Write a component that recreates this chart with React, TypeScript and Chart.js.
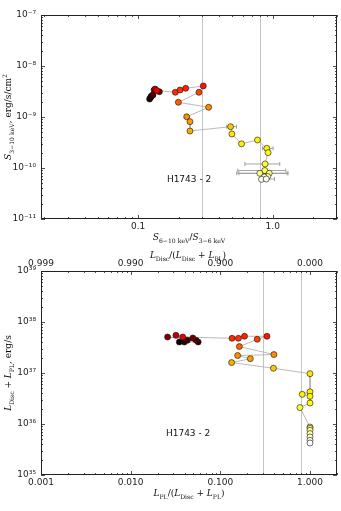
import React, { useEffect, useRef } from 'react';
import { Chart, registerables } from 'chart.js';
Chart.register(...registerables);

// ---------- data ----------
// upper panel: hardness ratio S(6-10 keV)/S(3-6 keV) vs flux S(3-10 keV)
const hardness = [0.1217, 0.1238, 0.1248, 0.127, 0.129, 0.1314, 0.1438, 0.1336, 0.1376,
  0.189, 0.2048, 0.2257, 0.3047, 0.283, 0.199, 0.334, 0.2296, 0.2428, 0.2428, 0.486,
  0.497, 0.586, 0.77, 0.903, 0.923, 0.877, 0.873, 0.942, 0.801, 0.918, 0.865, 0.825, 0.895];
const flux = [2.25e-9, 2.41e-9, 2.52e-9, 2.64e-9, 2.7e-9, 3.38e-9, 3.13e-9, 3.54e-9, 3.31e-9,
  3.05e-9, 3.38e-9, 3.65e-9, 4.06e-9, 3.05e-9, 1.94e-9, 1.55e-9, 1.01e-9, 8.09e-10, 5.31e-10, 6.46e-10,
  4.65e-10, 2.98e-10, 3.54e-10, 2.43e-10, 2.0e-10, 1.2e-10, 8.93e-11, 7.87e-11, 7.87e-11, 6.81e-11, 6.67e-11, 6.0e-11, 6.08e-11];
const hardnessLow: (number | null)[] = [null, null, null, null, null, null, null, null, null,
  null, null, null, null, null, null, null, null, null, null, 0.454,
  null, null, null, 0.839, null, 0.621, 0.55, 0.54, 0.56, null, null, null, 0.83];
const hardnessHigh: (number | null)[] = [null, null, null, null, null, null, null, null, null,
  null, null, null, null, null, null, null, null, null, null, 0.538,
  null, null, null, 1.005, null, 1.127, 1.25, 1.3, 1.28, null, null, null, 1.03];

// lower panel: power-law fraction vs total luminosity
const plFraction = [0.0349, 0.0397, 0.0566, 0.0429, 0.0537, 0.0258, 0.0493, 0.032, 0.0381,
  0.135, 0.159, 0.186, 0.331, 0.258, 0.163, 0.396, 0.156, 0.216, 0.1336, 0.391,
  1.0, 1.0, 0.819, 1.0, 1.0, 0.772, 1.0, 1.0, 1.0, 1.0, 1.0, 1.0, 1.0];
const luminosity = [4.05e37, 4.05e37, 4.05e37, 4.38e37, 4.38e37, 5.08e37, 4.86e37, 5.49e37, 5.08e37,
  4.79e37, 4.79e37, 5.25e37, 5.25e37, 4.58e37, 3.3e37, 2.3e37, 2.2e37, 1.91e37, 1.6e37, 1.24e37,
  9.7e36, 4.28e36, 3.82e36, 3.49e36, 2.58e36, 2.1e36, 8.73e35, 8.24e35, 7.53e35, 6.49e35, 5.56e35, 4.79e35, 4.24e35];

const referenceLines = [0.3, 0.8];
const topXTicks = [0.1, 1];
const topYTicks = [1e-11, 1e-10, 1e-9, 1e-8, 1e-7];
const botXTicks = [0.001, 0.01, 0.1, 1];
const botYTicks = [1e35, 1e36, 1e37, 1e38, 1e39];
const sourceLabel = 'H1743 - 2';
const labelPosTop = { x: 0.239, y: 6.0e-11 };
const labelPosBot = { x: 0.0437, y: 6.5e35 };

// ---------- style ----------
const pointColors = ['#000000', '#1a0000', '#2a0000', '#3d0000', '#520000', '#800000', '#6a0000', '#c00000', '#ee0000',
  '#ff2a00', '#ff3000', '#ff2200', '#ff1400', '#ff4000', '#ff6000', '#ff8800', '#ff8c00', '#ff9a00', '#ffaa00', '#ffc800',
  '#ffe600', '#ffee00', '#fff000', '#fff500', '#fffa10', '#ffff30', '#ffff50', '#ffff70', '#ffff90', '#ffffb0', '#ffffd0', '#ffffee', '#ffffff'];

const SUP: Record<string, string> = { '-': '⁻', '0': '⁰', '1': '¹', '2': '²', '3': '³', '4': '⁴', '5': '⁵', '6': '⁶', '7': '⁷', '8': '⁸', '9': '⁹' };
const powLabel = (v: number) => '10' + String(Math.round(Math.log10(v))).split('').map((c) => SUP[c]).join('');

type Part = { t: string; s?: 'sub' | 'sup'; i?: boolean };

function drawRich(ctx: CanvasRenderingContext2D, parts: Part[], cx: number, cy: number, rot: number, size: number) {
  ctx.save();
  ctx.translate(cx, cy);
  ctx.rotate(rot);
  const fontFor = (p: Part) => `${p.i ? 'italic ' : ''}${p.s ? size * 0.68 : size}px "DejaVu Serif"`;
  let w = 0;
  for (const p of parts) { ctx.font = fontFor(p); w += ctx.measureText(p.t).width; }
  let x = -w / 2;
  ctx.textBaseline = 'alphabetic';
  ctx.textAlign = 'left';
  ctx.fillStyle = '#111';
  for (const p of parts) {
    ctx.font = fontFor(p);
    const dy = p.s === 'sub' ? size * 0.3 : p.s === 'sup' ? -size * 0.42 : 0;
    ctx.fillText(p.t, x, size * 0.35 + dy);
    x += ctx.measureText(p.t).width;
  }
  ctx.restore();
}

function logValues(min: number, max: number) {
  const out: { v: number; major: boolean }[] = [];
  for (let e = Math.floor(Math.log10(min)); e <= Math.ceil(Math.log10(max)); e++) {
    for (let m = 1; m <= 9; m++) {
      const v = m * Math.pow(10, e);
      if (v >= min * 0.9999 && v <= max * 1.0001) out.push({ v, major: m === 1 });
    }
  }
  return out;
}

type Decor = {
  label: string;
  labelPos: { x: number; y: number };
  xTitle: Part[];
  yTitle: Part[];
  topTitle?: Part[];
  errLo?: (number | null)[];
  errHi?: (number | null)[];
  errY?: number[];
};

function makeDecor(d: Decor) {
  return {
    id: 'decor',
    beforeDatasetsDraw(chart: any) {
      const { ctx, chartArea: a, scales } = chart;
      const xs = scales.x, ys = scales.y;
      ctx.save();
      ctx.strokeStyle = '#c4c4c4';
      ctx.lineWidth = 1;
      for (const r of referenceLines) {
        const px = Math.round(xs.getPixelForValue(r)) + 0.5;
        ctx.beginPath(); ctx.moveTo(px, a.top); ctx.lineTo(px, a.bottom); ctx.stroke();
      }
      if (d.errLo && d.errHi && d.errY) {
        ctx.strokeStyle = '#9a9a9a';
        ctx.lineWidth = 0.9;
        d.errLo.forEach((lo, i) => {
          const hi = d.errHi![i];
          if (lo == null || hi == null) return;
          const py = ys.getPixelForValue(d.errY![i]);
          const x0 = xs.getPixelForValue(lo), x1 = xs.getPixelForValue(hi);
          ctx.beginPath();
          ctx.moveTo(x0, py); ctx.lineTo(x1, py);
          ctx.moveTo(x0, py - 2); ctx.lineTo(x0, py + 2);
          ctx.moveTo(x1, py - 2); ctx.lineTo(x1, py + 2);
          ctx.stroke();
        });
      }
      ctx.restore();
    },
    afterDraw(chart: any) {
      const { ctx, chartArea: a, scales } = chart;
      const xs = scales.x, ys = scales.y;
      ctx.save();
      ctx.strokeStyle = '#222';
      ctx.lineWidth = 1;
      ctx.strokeRect(a.left + 0.5, a.top + 0.5, a.right - a.left - 1, a.bottom - a.top - 1);
      ctx.lineWidth = 0.8;
      ctx.beginPath();
      for (const t of logValues(xs.min, xs.max)) {
        const px = Math.round(xs.getPixelForValue(t.v)) + 0.5;
        const L = t.major ? 4 : 2;
        ctx.moveTo(px, a.bottom); ctx.lineTo(px, a.bottom - L);
        ctx.moveTo(px, a.top); ctx.lineTo(px, a.top + L);
      }
      for (const t of logValues(ys.min, ys.max)) {
        const py = Math.round(ys.getPixelForValue(t.v)) + 0.5;
        const L = t.major ? 4 : 2;
        ctx.moveTo(a.left, py); ctx.lineTo(a.left + L, py);
        ctx.moveTo(a.right, py); ctx.lineTo(a.right - L, py);
      }
      ctx.stroke();
      // source label
      ctx.fillStyle = '#111';
      ctx.font = '9px "DejaVu Sans"';
      ctx.textAlign = 'center';
      ctx.textBaseline = 'middle';
      ctx.fillText(d.label, xs.getPixelForValue(d.labelPos.x), ys.getPixelForValue(d.labelPos.y));
      ctx.restore();
      const cxm = (a.left + a.right) / 2;
      const cym = (a.top + a.bottom) / 2;
      drawRich(ctx, d.xTitle, cxm, a.bottom + 18, 0, 9);
      drawRich(ctx, d.yTitle, 8, cym, -Math.PI / 2, 9);
      if (d.topTitle) drawRich(ctx, d.topTitle, cxm - 1, a.top - 16, 0, 9);
    },
  };
}

const tickFont = { family: '"DejaVu Sans"', size: 9 };
const tickColor = '#222';

function baseDataset(xv: number[], yv: number[]) {
  return {
    data: xv.map((x, i) => ({ x, y: yv[i] })),
    showLine: true,
    borderColor: '#a8a8a8',
    borderWidth: 0.8,
    pointBackgroundColor: pointColors,
    pointBorderColor: '#111',
    pointBorderWidth: 0.6,
    pointRadius: 3,
    pointHoverRadius: 3,
  };
}

function topConfig(): any {
  return {
    type: 'scatter',
    data: { datasets: [baseDataset(hardness, flux)] },
    options: {
      responsive: false,
      animation: false,
      events: [],
      layout: { padding: { left: 0, right: 4, top: 15, bottom: 0 } },
      plugins: { legend: { display: false }, tooltip: { enabled: false } },
      scales: {
        x: {
          type: 'logarithmic', min: 0.019, max: 3,
          grid: { display: false, drawTicks: false }, border: { display: false },
          ticks: { font: tickFont, color: tickColor, padding: 2, maxRotation: 0, autoSkip: false,
            callback: (v: number) => v.toFixed(1) },
          afterBuildTicks: (s: any) => { s.ticks = topXTicks.map((value) => ({ value })); },
          afterFit: (s: any) => { s.height = 36; },
        },
        y: {
          type: 'logarithmic', min: 1e-11, max: 1e-7,
          grid: { display: false, drawTicks: false }, border: { display: false },
          ticks: { font: tickFont, color: tickColor, padding: 5, autoSkip: false, callback: (v: number) => powLabel(v) },
          afterBuildTicks: (s: any) => { s.ticks = topYTicks.map((value) => ({ value })); },
          afterFit: (s: any) => { s.width = 41; },
        },
      },
    },
    plugins: [makeDecor({
      label: sourceLabel,
      labelPos: labelPosTop,
      xTitle: [{ t: 'S', i: true }, { t: '6−10 keV', s: 'sub' }, { t: '/' }, { t: 'S', i: true }, { t: '3−6 keV', s: 'sub' }],
      yTitle: [{ t: 'S', i: true }, { t: '3−10 keV', s: 'sub' }, { t: ', erg/s/cm' }, { t: '2', s: 'sup' }],
      errLo: hardnessLow, errHi: hardnessHigh, errY: flux,
    })],
  };
}

function bottomConfig(): any {
  return {
    type: 'scatter',
    data: { datasets: [baseDataset(plFraction, luminosity)] },
    options: {
      responsive: false,
      animation: false,
      events: [],
      layout: { padding: { left: 0, right: 4, top: 0, bottom: 0 } },
      plugins: { legend: { display: false }, tooltip: { enabled: false } },
      scales: {
        x: {
          type: 'logarithmic', min: 0.001, max: 2,
          grid: { display: false, drawTicks: false }, border: { display: false },
          ticks: { font: tickFont, color: tickColor, padding: 2, maxRotation: 0, autoSkip: false,
            callback: (v: number) => v.toFixed(3) },
          afterBuildTicks: (s: any) => { s.ticks = botXTicks.map((value) => ({ value })); },
          afterFit: (s: any) => { s.height = 36; },
        },
        x2: {
          type: 'logarithmic', position: 'top', axis: 'x', min: 0.001, max: 2,
          grid: { display: false, drawTicks: false }, border: { display: false },
          ticks: { font: tickFont, color: tickColor, padding: 2, maxRotation: 0, autoSkip: false,
            callback: (v: number) => (1 - v).toFixed(3) },
          afterBuildTicks: (s: any) => { s.ticks = botXTicks.map((value) => ({ value })); },
          afterFit: (s: any) => { s.height = 26; },
        },
        y: {
          type: 'logarithmic', min: 1e35, max: 1e39,
          grid: { display: false, drawTicks: false }, border: { display: false },
          ticks: { font: tickFont, color: tickColor, padding: 5, autoSkip: false, callback: (v: number) => powLabel(v) },
          afterBuildTicks: (s: any) => { s.ticks = botYTicks.map((value) => ({ value })); },
          afterFit: (s: any) => { s.width = 41; },
        },
      },
    },
    plugins: [makeDecor({
      label: sourceLabel,
      labelPos: labelPosBot,
      xTitle: [{ t: 'L', i: true }, { t: 'PL', s: 'sub' }, { t: '/(' }, { t: 'L', i: true }, { t: 'Disc', s: 'sub' }, { t: ' + ' }, { t: 'L', i: true }, { t: 'PL', s: 'sub' }, { t: ')' }],
      yTitle: [{ t: 'L', i: true }, { t: 'Disc', s: 'sub' }, { t: ' + ' }, { t: 'L', i: true }, { t: 'PL', s: 'sub' }, { t: ', erg/s' }],
      topTitle: [{ t: 'L', i: true }, { t: 'Disc', s: 'sub' }, { t: '/(' }, { t: 'L', i: true }, { t: 'Disc', s: 'sub' }, { t: ' + ' }, { t: 'L', i: true }, { t: 'PL', s: 'sub' }, { t: ')' }],
    })],
  };
}

function Panel({ make, top, height }: { make: () => any; top: number; height: number }) {
  const ref = useRef<HTMLCanvasElement>(null);
  useEffect(() => {
    const chart = new Chart(ref.current as HTMLCanvasElement, make());
    return () => chart.destroy();
  }, []);
  return (
    <canvas ref={ref} width={341} height={height}
      style={{ position: 'absolute', left: 0, top, width: 341, height, display: 'block' }} />
  );
}

export default function App() {
  return (
    <div style={{ position: 'absolute', left: 0, top: 0, width: 341, height: 511, background: '#fff' }}>
      <Panel make={topConfig} top={0} height={255} />
      <Panel make={bottomConfig} top={245} height={266} />
    </div>
  );
}
